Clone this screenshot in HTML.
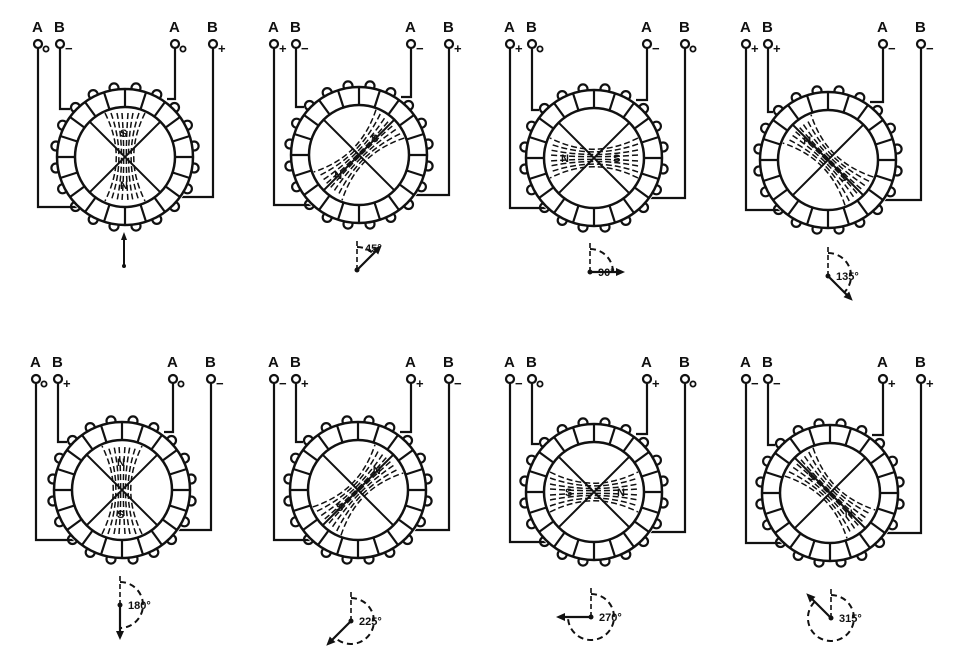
<!DOCTYPE html>
<html><head><meta charset="utf-8"><style>
html,body{margin:0;padding:0;background:#fff;width:960px;height:655px;overflow:hidden}
text{font-family:"Liberation Sans",sans-serif;font-weight:bold;fill:#111}
</style></head><body>
<svg id="s" width="960" height="655" viewBox="0 0 960 655" xmlns="http://www.w3.org/2000/svg"></svg>
<script>
const s=document.getElementById('s');let h='';
const units=[
 {cx:125,cy:157,ty:0,a:0,sg:['o','−','o','+'],ind:[124,266]},
 {cx:359,cy:155,ty:0,a:45,sg:['+','−','−','+'],ind:[357,270]},
 {cx:594,cy:158,ty:0,a:90,sg:['+','o','−','o'],ind:[590,272]},
 {cx:828,cy:160,ty:0,a:135,sg:['+','+','−','−'],ind:[828,276]},
 {cx:122,cy:490,ty:335,a:180,sg:['o','+','o','−'],ind:[120,605]},
 {cx:358,cy:490,ty:335,a:225,sg:['−','+','+','−'],ind:[351,621]},
 {cx:594,cy:492,ty:335,a:270,sg:['−','o','+','o'],ind:[591,617]},
 {cx:830,cy:493,ty:335,a:315,sg:['−','−','+','+'],ind:[831,618]}];
const offs=['A','B','A','B'];
units.forEach((u,i)=>{
 const col=i%4, bx=38+col*236-(i>=4&&col==0?2:0);
 const cx=u.cx,cy=u.cy,R=68,r=50;
 const tl=u.ty+25, tc=u.ty+44;
 const xs=[bx,bx+22,bx+137,bx+175];
 xs.forEach((x,k)=>{
  h+=`<text x="${x-6}" y="${tl+7}" font-size="15">${offs[k]}</text>`;
  h+=`<circle cx="${x}" cy="${tc}" r="4" fill="none" stroke="#111" stroke-width="2.2"/>`;
  const sg=u.sg[k];
  if(sg=='o')h+=`<circle cx="${x+8}" cy="${tc+5}" r="2.6" fill="none" stroke="#111" stroke-width="1.8"/>`;
  else h+=`<text x="${x+5}" y="${tc+9}" font-size="13">${sg}</text>`;
 });
 const st='stroke="#111" stroke-width="2.2" fill="none"';
 h+=`<polyline points="${xs[0]},${tc+4} ${xs[0]},${cy+50} ${cx-40},${cy+50}" ${st}/>`;
 h+=`<polyline points="${xs[1]},${tc+4} ${xs[1]},${cy-48} ${cx-55},${cy-48}" ${st}/>`;
 h+=`<polyline points="${xs[2]},${tc+4} ${xs[2]},${cy-58} ${cx+42},${cy-58}" ${st}/>`;
 h+=`<polyline points="${xs[3]},${tc+4} ${xs[3]},${cy+40} ${cx+55},${cy+40}" ${st}/>`;
 h+=`<circle cx="${cx}" cy="${cy}" r="${R+2}" fill="#fff" stroke="none"/>`;
 const n=20;
 for(let k=0;k<n;k++){
  const t=(k+0.5)/n*2*Math.PI;
  h+=`<circle cx="${(cx+(R+2)*Math.cos(t)).toFixed(1)}" cy="${(cy+(R+2)*Math.sin(t)).toFixed(1)}" r="4.5" ${st}/>`;
  h+=`<circle cx="${(cx+(r-1)*Math.cos(t)).toFixed(1)}" cy="${(cy+(r-1)*Math.sin(t)).toFixed(1)}" r="2.5" fill="#111"/>`;
 }
 h+=`<circle cx="${cx}" cy="${cy}" r="${R}" fill="#fff" stroke="#111" stroke-width="2.5"/>`;
 h+=`<circle cx="${cx}" cy="${cy}" r="${r}" fill="#fff" stroke="#111" stroke-width="2.5"/>`;
 for(let k=0;k<n;k++){
  const t=k/n*2*Math.PI,c=Math.cos(t),sn=Math.sin(t);
  h+=`<line x1="${(cx+r*c).toFixed(1)}" y1="${(cy+r*sn).toFixed(1)}" x2="${(cx+R*c).toFixed(1)}" y2="${(cy+R*sn).toFixed(1)}" stroke="#111" stroke-width="2.2"/>`;
 }
 const d=r*0.707;
 h+=`<line x1="${cx-d}" y1="${cy-d}" x2="${cx+d}" y2="${cy+d}" stroke="#111" stroke-width="2"/>`;
 h+=`<line x1="${cx+d}" y1="${cy-d}" x2="${cx-d}" y2="${cy+d}" stroke="#111" stroke-width="2"/>`;
 h+=`<g transform="translate(${cx},${cy}) rotate(${u.a})">`;
 [-20,-14,-8,-3,3,8,14,20].forEach(x=>{
  h+=`<path d="M${x},-44 C${x*0.25},-14 ${x*0.25},14 ${x},44" stroke="#111" stroke-width="1.5" stroke-dasharray="6 3" fill="none"/>`;
 });
 h+=`<text x="-5" y="-20" font-size="11" transform="rotate(${-u.a} 0 -24)">S</text>`;
 h+=`<text x="-5" y="32" font-size="11" transform="rotate(${-u.a} 0 28)">N</text>`;
 h+=`</g>`;
 const [ix,iy]=u.ind;
 if(u.a==0){
  h+=`<line x1="${ix}" y1="${iy}" x2="${ix}" y2="${iy-30}" stroke="#111" stroke-width="2"/><polygon points="${ix-3},${iy-26} ${ix+3},${iy-26} ${ix},${iy-34}" fill="#111"/><circle cx="${ix}" cy="${iy}" r="2" fill="#111"/>`;
 } else {
  const ar=23, L=32, t=(u.a-90)*Math.PI/180;
  h+=`<line x1="${ix}" y1="${iy}" x2="${ix}" y2="${iy-32}" stroke="#111" stroke-width="1.6" stroke-dasharray="5 3"/>`;
  const ex=ix+ar*Math.cos(t),ey=iy+ar*Math.sin(t);
  h+=`<path d="M${ix},${iy-ar} A${ar},${ar} 0 ${u.a>180?1:0} 1 ${ex.toFixed(1)},${ey.toFixed(1)}" stroke="#111" stroke-width="2" stroke-dasharray="6 4" fill="none"/>`;
  const ax=ix+L*Math.cos(t),ay=iy+L*Math.sin(t);
  h+=`<line x1="${ix}" y1="${iy}" x2="${ax.toFixed(1)}" y2="${ay.toFixed(1)}" stroke="#111" stroke-width="2.2"/>`;
  h+=`<g transform="translate(${ax.toFixed(1)},${ay.toFixed(1)}) rotate(${u.a-90})"><polygon points="3,0 -6,-4 -6,4" fill="#111"/></g>`;
  h+=`<circle cx="${ix}" cy="${iy}" r="2.5" fill="#111"/>`;
  h+=`<text x="${ix+8}" y="${iy+(u.a==45?-18:4)}" font-size="11">${u.a}°</text>`;
 }
});
s.innerHTML=h;
</script>
</body></html>
